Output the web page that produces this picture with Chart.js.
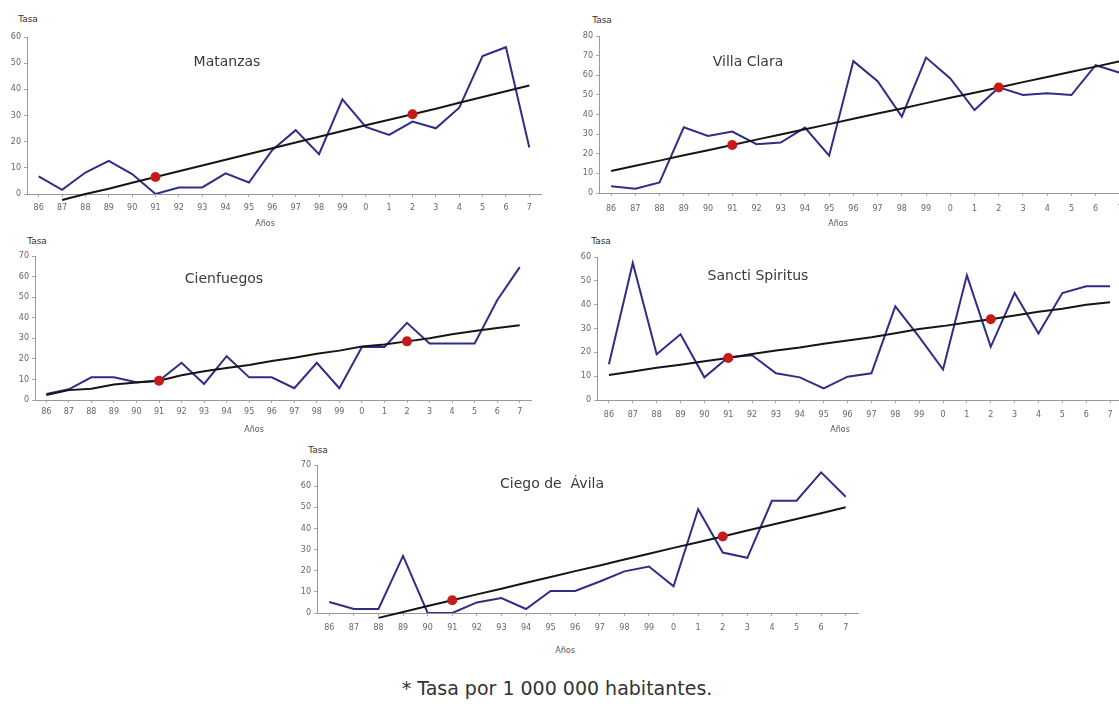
<!DOCTYPE html>
<html>
<head>
<meta charset="utf-8">
<script src="https://cdn.jsdelivr.net/npm/chart.js@4.4.0/dist/chart.umd.min.js"></script>
<style>
  body { margin: 0; background: #fff; width: 1119px; height: 704px; overflow: hidden; position: relative; font-family: "DejaVu Sans", sans-serif; }
  canvas { position: absolute; }
  .txt { position: absolute; white-space: nowrap; transform: translate(-50%, -50%); }
  .tasa { font-size: 9px; color: #333; }
  .anos { font-size: 8px; color: #555; }
  .name { font-size: 14px; color: #3a3a3a; }
  .note { font-size: 19px; color: #333; }
</style>
</head>
<body>
<canvas id="c1"></canvas>
<canvas id="c2"></canvas>
<canvas id="c3"></canvas>
<canvas id="c4"></canvas>
<canvas id="c5"></canvas>

<div class="txt tasa" style="left:28px;top:19px">Tasa</div>
<div class="txt tasa" style="left:602px;top:20px">Tasa</div>
<div class="txt tasa" style="left:37px;top:241px">Tasa</div>
<div class="txt tasa" style="left:601px;top:241px">Tasa</div>
<div class="txt tasa" style="left:318px;top:450px">Tasa</div>

<div class="txt name" style="left:227px;top:61px">Matanzas</div>
<div class="txt name" style="left:748px;top:61px">Villa Clara</div>
<div class="txt name" style="left:224px;top:278px">Cienfuegos</div>
<div class="txt name" style="left:758px;top:275px">Sancti Spiritus</div>
<div class="txt name" style="left:552px;top:483px">Ciego de&nbsp; Ávila</div>

<div class="txt anos" style="left:265px;top:223px">Años</div>
<div class="txt anos" style="left:838px;top:223px">Años</div>
<div class="txt anos" style="left:254px;top:429px">Años</div>
<div class="txt anos" style="left:840px;top:429px">Años</div>
<div class="txt anos" style="left:565px;top:650px">Años</div>

<div class="txt note" style="left:557px;top:688px">* Tasa por 1 000 000 habitantes.</div>

<script>
const years = ['86','87','88','89','90','91','92','93','94','95','96','97','98','99','0','1','2','3','4','5','6','7'];
const markedYears = ['91', '2'];

const matanzas      = [6.7, 1.6, 8.2, 12.7, 7.6, 0, 2.5, 2.5, 7.9, 4.4, 16.8, 24.4, 15.2, 36.2, 25.6, 22.6, 27.7, 25.1, 33, 52.7, 56.1, 17.8];
const matanzasTrend = [null, -2.3, 0, 2, 4.3, 6.5, 8.7, 10.9, 13.1, 15.3, 17.5, 19.7, 21.9, 24.1, 26.3, 28.4, 30.5, 32.6, 34.9, 37.1, 39.3, 41.5];

const villaClara      = [3.4, 2.2, 5.4, 33.5, 29.1, 31.3, 24.9, 25.7, 33.3, 19, 67.2, 57, 38.9, 69, 58.4, 42.3, 53.8, 49.9, 50.8, 49.9, 65.1, 61.3];
const villaClaraTrend = [11.2, 13.9, 16.5, 19.2, 21.8, 24.5, 27.2, 29.8, 32.5, 35.1, 37.8, 40.5, 43.1, 45.8, 48.5, 51.1, 53.8, 56.5, 59.1, 61.8, 64.4, 67.1];

const cienfuegos      = [2.9, 5.2, 11, 11, 8.6, 9.4, 18.1, 7.8, 21.3, 11, 11, 5.7, 18.1, 5.7, 25.8, 25.8, 37.5, 27.5, 27.5, 27.5, 48.5, 64.6];
const cienfuegosTrend = [2.4, 4.8, 5.5, 7.5, 8.5, 9.4, 12, 14, 15.5, 17, 19, 20.5, 22.5, 24, 26, 27, 28.5, 30, 32, 33.5, 35, 36.3];

const sanctiSpiritus      = [15, 57.5, 19.2, 27.6, 9.5, 17.9, 18.8, 11.2, 9.5, 4.9, 9.8, 11.2, 39.3, 26.5, 12.8, 52.3, 22.3, 44.9, 27.9, 44.9, 47.7, 47.7];
const sanctiSpiritusTrend = [10.5, 12, 13.5, 14.8, 16.3, 17.6, 19.3, 20.8, 22, 23.6, 25, 26.3, 28, 29.8, 31, 32.5, 33.9, 35.5, 37, 38.3, 40, 41];

const ciegoAvila      = [5.2, 1.9, 1.9, 27, 0, 0, 5, 7.1, 1.9, 10.4, 10.4, 14.9, 19.7, 22, 12.6, 49.1, 28.6, 26.1, 53.1, 53.1, 66.5, 55];
const ciegoAvilaTrend = [null, null, -2.3, 0.5, 3.3, 6, 8.8, 11.5, 14.3, 17, 19.8, 22.5, 25.3, 28, 30.8, 33.5, 36.2, 39, 41.7, 44.5, 47.2, 50];

const blue = '#2e2e88';
const black = '#151515';
const red = '#c41b1b';

// area = chart area in page pixels, gap = label distance below the axis
function makePanel(id, values, trend, yMax, area, gap) {
    const canvas = document.getElementById(id);
    const yw = 30, padTop = 10, padRight = 6, xh = 32;
    const w = area.right - area.left + yw + padRight;
    const h = area.bottom - area.top + padTop + xh;
    canvas.style.left = (area.left - yw) + 'px';
    canvas.style.top = (area.top - padTop) + 'px';
    canvas.style.width = w + 'px';
    canvas.style.height = h + 'px';
    canvas.width = w;
    canvas.height = h;

    const dots = years.map((y, i) => markedYears.includes(y) ? trend[i] : null);

    new Chart(canvas.getContext('2d'), {
        type: 'line',
        data: {
            labels: years,
            datasets: [
                { data: dots, order: 0, showLine: false, pointRadius: 5, pointBackgroundColor: red, pointBorderWidth: 0, clip: false },
                { data: trend, order: 1, borderColor: black, borderWidth: 2, pointRadius: 0, tension: 0, clip: false },
                { data: values, order: 2, borderColor: blue, borderWidth: 2, pointRadius: 0, tension: 0 }
            ]
        },
        options: {
            responsive: false,
            animation: false,
            layout: { padding: { top: padTop, right: padRight, left: 0, bottom: 0 } },
            plugins: { legend: { display: false }, tooltip: { enabled: false } },
            scales: {
                x: {
                    offset: true,
                    grid: { drawOnChartArea: false, tickLength: 3, color: '#aaa' },
                    border: { color: '#999', width: 1 },
                    ticks: { autoSkip: false, maxRotation: 0, padding: gap, color: '#666', font: { size: 8, family: 'DejaVu Sans' } },
                    afterFit: (scale) => { scale.height = xh; }
                },
                y: {
                    min: 0,
                    max: yMax,
                    grid: { drawOnChartArea: false, tickLength: 3, color: '#aaa' },
                    border: { color: '#999', width: 1 },
                    ticks: { stepSize: 10, padding: 3, color: '#666', font: { size: 8, family: 'DejaVu Sans' } },
                    afterFit: (scale) => { scale.width = yw; }
                }
            }
        }
    });
}

makePanel('c1', matanzas, matanzasTrend, 60, { left: 27, top: 37, right: 541, bottom: 194 }, 6);
makePanel('c2', villaClara, villaClaraTrend, 80, { left: 599, top: 36, right: 1132, bottom: 193 }, 8);
makePanel('c3', cienfuegos, cienfuegosTrend, 70, { left: 35, top: 256, right: 531, bottom: 400 }, 4);
makePanel('c4', sanctiSpiritus, sanctiSpiritusTrend, 60, { left: 597, top: 257, right: 1122, bottom: 400 }, 7);
makePanel('c5', ciegoAvila, ciegoAvilaTrend, 70, { left: 317, top: 465, right: 858, bottom: 613 }, 7);
</script>
</body>
</html>
